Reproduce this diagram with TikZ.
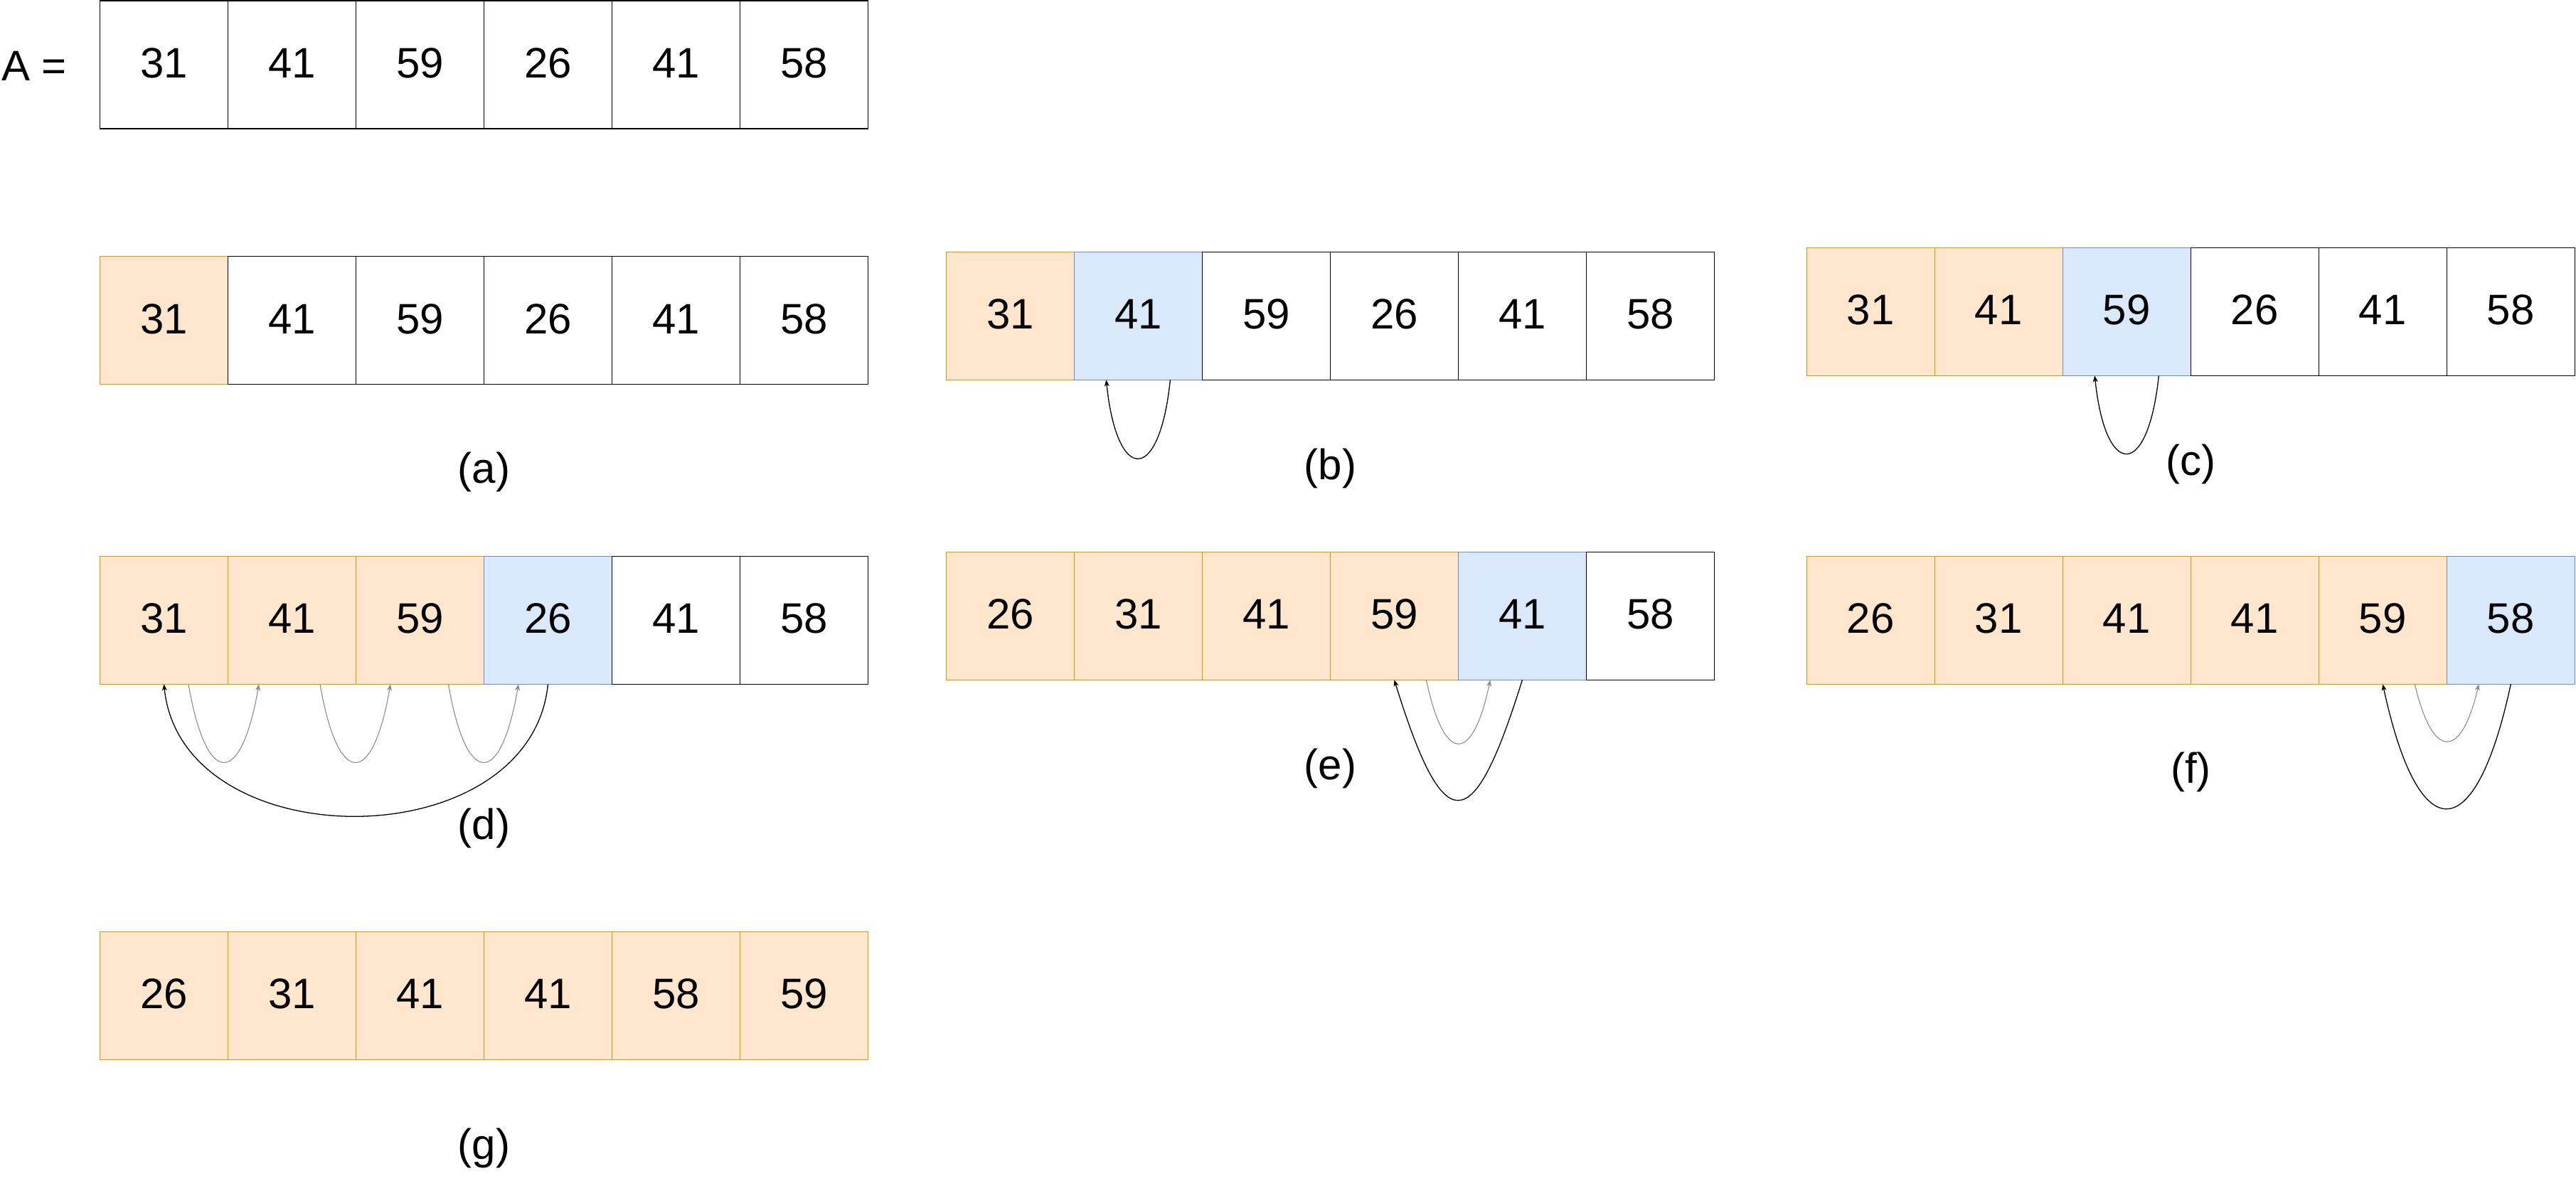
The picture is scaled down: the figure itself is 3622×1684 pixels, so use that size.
\documentclass[tikz,border=0pt]{standalone}
\usepackage{fontspec}
\setmainfont{Liberation Sans}
\usetikzlibrary{arrows.meta}
\definecolor{ofill}{HTML}{FFE6CC}
\definecolor{oline}{HTML}{D79B00}
\definecolor{bfill}{HTML}{DAE8FC}
\definecolor{bline}{HTML}{6C8EBF}
\definecolor{wfill}{HTML}{FFFFFF}
\definecolor{wline}{HTML}{000000}
\definecolor{arcgray}{HTML}{8C8C8C}
\newcommand\bigfont{\fontsize{60}{72}\selectfont}
\newcommand\cellrow[4]{\foreach \v/\s [count=\i] in {#4} {\node[cell, fill=\s fill, draw=\s line] (#1\i) at ({#2+180*\i-90},{#3+90}) {\v};}}
\begin{document}
\begin{tikzpicture}[x=1pt,y=-1pt,
  cell/.style={rectangle, minimum width=180pt, minimum height=180pt, inner sep=0pt, outer sep=0pt, line width=1.4pt, font=\bigfont, text height=43pt, text depth=6pt},
  lab/.style={inner sep=0pt, outer sep=0pt, font=\bigfont},
  blackarc/.style={draw=black, line width=1.3pt, -{Stealth[length=9pt,width=7pt,inset=2.5pt]}},
  grayarc/.style={draw=arcgray, line width=1.1pt, -{Stealth[length=9pt,width=7pt,inset=2.5pt]}}]
\fill[white] (0,0) rectangle (3622,1684);
\useasboundingbox (0,0) rectangle (3622,1684);

% rows of cells
\cellrow{A}{140.5}{1}{31/w,41/w,59/w,26/w,41/w,58/w}
\cellrow{a}{140.5}{360.5}{31/o,41/w,59/w,26/w,41/w,58/w}
\cellrow{b}{1330.4}{354.3}{31/o,41/b,59/w,26/w,41/w,58/w}
\cellrow{c}{2540.3}{348.3}{31/o,41/o,59/b,26/w,41/w,58/w}
\cellrow{d}{140.5}{782.3}{31/o,41/o,59/o,26/b,41/w,58/w}
\cellrow{e}{1330.4}{776.3}{26/o,31/o,41/o,59/o,41/b,58/w}
\cellrow{f}{2540.3}{782.3}{26/o,31/o,41/o,41/o,59/o,58/b}
\cellrow{g}{140.5}{1310.3}{26/o,31/o,41/o,41/o,58/o,59/o}

% texts
\node[lab, anchor=west] (Alab) at (2,92.4) {A =};
\node[lab] (la) at (680.5,664) {(a)};
\node[lab] (lb) at (1870.4,658.5) {(b)};
\node[lab] (lc) at (3080.3,652.5) {(c)};
\node[lab] (ld) at (680.5,1165) {(d)};
\node[lab] (le) at (1870.4,1080.7) {(e)};
\node[lab] (lf) at (3080.3,1086) {(f)};
\node[lab] (lg) at (680.5,1615) {(g)};

% (b)
\draw[blackarc] ([xshift=45pt]b2.south) .. controls +(-15,147) and +(15,147) .. ([xshift=-45pt]b2.south);
% (c)
\draw[blackarc] ([xshift=45pt]c3.south) .. controls +(-15,146) and +(15,146) .. ([xshift=-45pt]c3.south);
% (d)
\draw[grayarc] ([xshift=34.5pt]d1.south) .. controls +(25,146) and +(-25,146) .. ([xshift=-46.5pt]d2.south);
\draw[grayarc] ([xshift=39.5pt]d2.south) .. controls +(25,146) and +(-25,146) .. ([xshift=-41.5pt]d3.south);
\draw[grayarc] ([xshift=40pt]d3.south) .. controls +(25,146) and +(-25,146) .. ([xshift=-41.5pt]d4.south);
\draw[blackarc] (d4.south) .. controls +(-25,247) and +(25,247) .. (d1.south);
% (e)
\draw[grayarc] ([xshift=45pt]e4.south) .. controls +(25,119) and +(-25,119) .. ([xshift=-45pt]e5.south);
\draw[blackarc] (e5.south) .. controls +(-70,225) and +(70,225) .. (e4.south);
% (f)
\draw[grayarc] ([xshift=45pt]f5.south) .. controls +(25,107) and +(-25,107) .. ([xshift=-45pt]f6.south);
\draw[blackarc] (f6.south) .. controls +(-50,233) and +(50,233) .. (f5.south);
\end{tikzpicture}
\end{document}
